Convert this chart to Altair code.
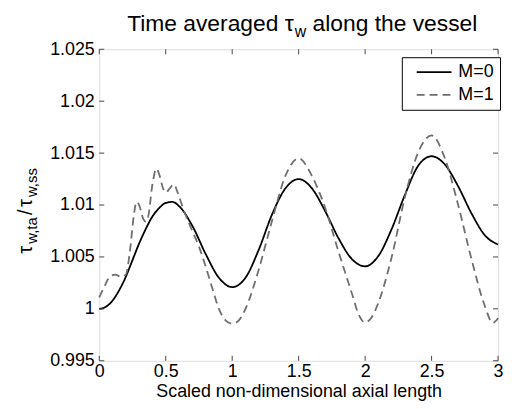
import altair as alt
import pandas as pd

# ---- data ----
series_names = ["M=0", "M=1"]

x_m0 = [0.00, 0.05, 0.10, 0.15, 0.20, 0.25, 0.30, 0.35, 0.40, 0.45, 0.50, 0.55, 0.60,
        0.70, 0.80, 0.90, 1.00, 1.10, 1.20, 1.30, 1.40, 1.50, 1.60, 1.70, 1.80, 1.90,
        2.00, 2.10, 2.20, 2.30, 2.40, 2.50, 2.60, 2.70, 2.80, 2.90, 3.00]
y_m0 = [1.0000, 1.0002, 1.0008, 1.0018, 1.0031, 1.0047, 1.0063, 1.0077, 1.0089, 1.0097,
        1.0102, 1.0103, 1.0099, 1.0080, 1.0053, 1.0030, 1.0021, 1.0030, 1.0057, 1.0091,
        1.0116, 1.0125, 1.0116, 1.0094, 1.0068, 1.0048, 1.0041, 1.0051, 1.0077, 1.0110,
        1.0138, 1.0147, 1.0139, 1.0118, 1.0092, 1.0071, 1.0062]

x_m1 = [0.00, 0.04, 0.08, 0.12, 0.16, 0.20, 0.23, 0.26, 0.28, 0.30, 0.33, 0.35, 0.37,
        0.40, 0.43, 0.45, 0.48, 0.50, 0.53, 0.56, 0.59, 0.63, 0.70, 0.75, 0.80, 0.85,
        0.90, 0.95, 1.00, 1.05, 1.10, 1.20, 1.30, 1.40, 1.50, 1.60, 1.70, 1.80, 1.90,
        1.95, 2.00, 2.05, 2.10, 2.20, 2.30, 2.40, 2.50, 2.60, 2.70, 2.80, 2.90, 2.96, 3.00]
y_m1 = [1.0011, 1.0022, 1.0031, 1.0033, 1.0031, 1.0033, 1.0055, 1.0090, 1.0103, 1.0100,
        1.0087, 1.0084, 1.0090, 1.0120, 1.0135, 1.0130, 1.0116, 1.0112, 1.0116, 1.0120,
        1.0112, 1.0097, 1.0075, 1.0060, 1.0041, 1.0020, 1.0000, 0.9989, 0.99857, 0.9989,
        1.0000, 1.0038, 1.0085, 1.0128, 1.0145, 1.0128, 1.0097, 1.0055, 1.0015, 0.9995,
        0.9987, 0.9992, 1.0006, 1.0050, 1.0108, 1.0151, 1.0167, 1.0145, 1.0100, 1.0048,
        1.0003, 0.99865, 0.9991]

x_ticks = [0, 0.5, 1, 1.5, 2, 2.5, 3]
y_ticks = [0.995, 1.0, 1.005, 1.01, 1.015, 1.02, 1.025]

title_parts = ["Time averaged \u03c4", "w", "along the vessel"]
ylabel_parts = ["\u03c4", "w,ta", "/", "\u03c4", "w,ss"]
xlabel = "Scaled non-dimensional axial length"

# ---- build ----
df = pd.concat([
    pd.DataFrame({"x": x_m0, "y": y_m0, "s": series_names[0]}),
    pd.DataFrame({"x": x_m1, "y": y_m1, "s": series_names[1]}),
], ignore_index=True)

W, H = 402, 314
FONT = "Liberation Sans"
FS = 18
TICK = 5

xscale = alt.Scale(domain=[0, 3], nice=False, zero=False)
yscale = alt.Scale(domain=[0.995, 1.025], nice=False, zero=False)

legend_common = dict(title=None, orient="none", legendX=305, legendY=8,
                     symbolType="M0,0H8", symbolSize=77, symbolStrokeWidth=1.8,
                     labelOffset=33, labelFont=FONT, labelFontSize=FS, labelColor="black",
                     padding=6, rowPadding=5, fillColor="white", strokeColor="black",
                     cornerRadius=0)

lines = alt.Chart(df).mark_line(interpolate="monotone", strokeWidth=1.8).encode(
    x=alt.X("x:Q", scale=xscale,
            axis=alt.Axis(values=x_ticks, format="~g", ticks=False, domain=False, grid=False,
                          labelFont=FONT, labelFontSize=FS, labelColor="black", labelPadding=2,
                          labelFlush=False,
                          title=xlabel, titleFont=FONT, titleFontSize=FS,
                          titleFontWeight="normal", titleColor="black",
                          titleBaseline="alphabetic", titleY=36)),
    y=alt.Y("y:Q", scale=yscale,
            axis=alt.Axis(values=y_ticks, format="~g", ticks=False, domain=False, grid=False,
                          labelFont=FONT, labelFontSize=FS, labelColor="black", labelPadding=5,
                          labelFlush=False, title=None)),
    color=alt.Color("s:N", scale=alt.Scale(domain=series_names, range=["#000000", "#6e6e6e"]),
                    legend=alt.Legend(**legend_common)),
    strokeDash=alt.StrokeDash("s:N", scale=alt.Scale(domain=series_names, range=[[1, 0], [8, 5]]),
                              legend=alt.Legend(**legend_common)),
)

xt = pd.DataFrame({"x": x_ticks})
yt = pd.DataFrame({"y": y_ticks})
tick_color = "#444444"
bot = alt.Chart(xt).mark_rule(color=tick_color, strokeWidth=1).encode(
    x=alt.X("x:Q", scale=xscale), y=alt.value(H), y2=alt.value(H - TICK))
top = alt.Chart(xt).mark_rule(color=tick_color, strokeWidth=1).encode(
    x=alt.X("x:Q", scale=xscale), y=alt.value(0), y2=alt.value(TICK))
lef = alt.Chart(yt).mark_rule(color=tick_color, strokeWidth=1).encode(
    y=alt.Y("y:Q", scale=yscale), x=alt.value(0), x2=alt.value(TICK))
rig = alt.Chart(yt).mark_rule(color=tick_color, strokeWidth=1).encode(
    y=alt.Y("y:Q", scale=yscale), x=alt.value(W), x2=alt.value(W - TICK))

one = pd.DataFrame({"k": [0]})

def txt(t, x, y, size, align="left", angle=0):
    return alt.Chart(one).mark_text(font=FONT, fontSize=size, align=align, baseline="alphabetic",
                                    angle=angle, color="black").encode(
        x=alt.value(x), y=alt.value(y), text=alt.value(t))

TFS = 23
SFS = 16
t1 = txt(title_parts[0], 196, -18, TFS, align="right")
t2 = txt(title_parts[1], 197, -12, SFS)
t3 = txt(title_parts[2], 215, -18, TFS)

YFS = 20
YSS = 15
bx, sx = -68, -63
y1 = txt(ylabel_parts[0], bx, 206, YFS, angle=270)
y2 = txt(ylabel_parts[1], sx, 196, YSS, angle=270)
y3 = txt(ylabel_parts[2], bx, 167, YFS, angle=270)
y4 = txt(ylabel_parts[3], bx, 159, YFS, angle=270)
y5 = txt(ylabel_parts[4], sx, 149, YSS, angle=270)

chart = alt.layer(lines, bot, top, lef, rig, t1, t2, t3, y1, y2, y3, y4, y5).properties(
    width=W, height=H,
    autosize=alt.AutoSizeParams(type="none"),
    padding={"left": 92, "top": 40, "right": 6, "bottom": 47},
).configure_view(stroke="#444444", strokeWidth=1).configure(background="white")

chart.save("out.html", embed_options={"renderer": "svg", "actions": False})
